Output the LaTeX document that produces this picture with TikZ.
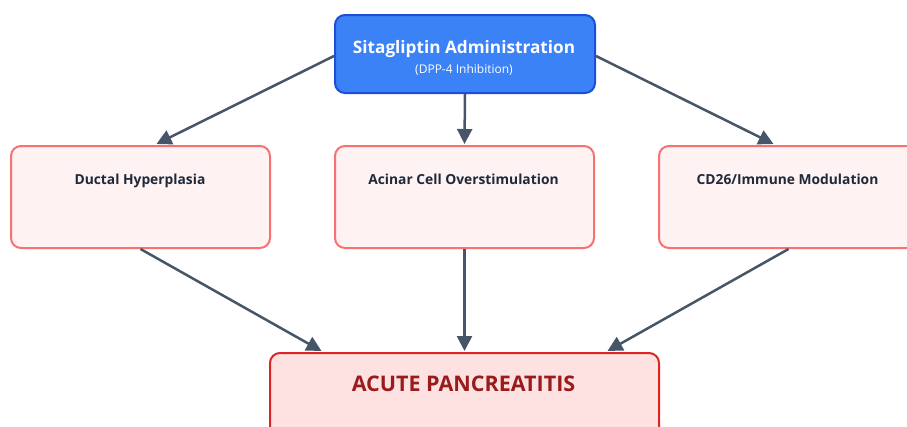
\documentclass[tikz,border=0pt]{standalone}
\usepackage{fontspec}
\setmainfont{Open Sans}
\usetikzlibrary{arrows.meta,calc}
\definecolor{topfill}{HTML}{3B82F6}
\definecolor{topdraw}{HTML}{1D4ED8}
\definecolor{midfill}{HTML}{FEF2F2}
\definecolor{middraw}{HTML}{F87171}
\definecolor{botfill}{HTML}{FEE2E2}
\definecolor{botdraw}{HTML}{DC2626}
\definecolor{bottext}{HTML}{991B1B}
\definecolor{arrowc}{HTML}{475569}
\definecolor{midtext}{HTML}{1E293B}
\tikzset{
  x=1pt, y=-1pt,
  box/.style={rectangle, rounded corners=10pt, line width=2pt, inner sep=0pt, anchor=north west},
  topbox/.style={box, fill=topfill, draw=topdraw, minimum width=260pt, minimum height=78pt},
  midbox/.style={box, fill=midfill, draw=middraw, minimum width=259pt, minimum height=102pt},
  botbox/.style={box, fill=botfill, draw=botdraw, minimum width=389pt, minimum height=100pt},
  midlabel/.style={text=midtext, font=\fontsize{13.8}{16}\selectfont\bfseries, inner sep=0pt, anchor=base},
  conn/.style={draw=arrowc, line width=2.5pt, -{Triangle[length=15pt,width=15pt]}},
}
\begin{document}
\begin{tikzpicture}
\useasboundingbox (0,0) rectangle (907,426);
% boxes
\node[topbox] (top) at (334,14) {};
\node[midbox] (dh) at (10,145) {};
\node[midbox] (ac) at (334,145) {};
\node[midbox] (cd) at (658,145) {};
\node[botbox] (ap) at (269,352) {};
% texts
\node[text=white, font=\fontsize{17.2}{20}\selectfont\bfseries, inner sep=0pt, anchor=base] (toptitle) at (464,53) {Sitagliptin Administration};
\node[text=white, font=\fontsize{12}{14}\selectfont, inner sep=0pt, anchor=base] (topsub) at (464,73) {(DPP-4 Inhibition)};
\node[midlabel] (dhl) at (140,184) {Ductal Hyperplasia};
\node[midlabel] (acl) at (463.5,184) {Acinar Cell Overstimulation};
\node[midlabel] (cdl) at (787.5,184) {CD26/Immune Modulation};
\node[text=bottext, font=\fontsize{21.5}{24}\selectfont\bfseries, inner sep=0pt, anchor=base] (apl) at (463.5,391) {ACUTE PANCREATITIS};
% connectors
\draw[conn] ($(top.west)+(0,2)$) -- ($(dh.north)+(16,-1)$);
\draw[conn] (top.south) -- ($(ac.north)+(0,-1)$);
\draw[conn] ($(top.east)+(0,2)$) -- ($(cd.north)+(-15,-1)$);
\draw[conn] (dh.south) -- ($(ap.north)+(-143,-1)$);
\draw[conn] (ac.south) -- ($(ap.north)+(0,-1)$);
\draw[conn] (cd.south) -- ($(ap.north)+(143,-1)$);
\end{tikzpicture}
\end{document}
